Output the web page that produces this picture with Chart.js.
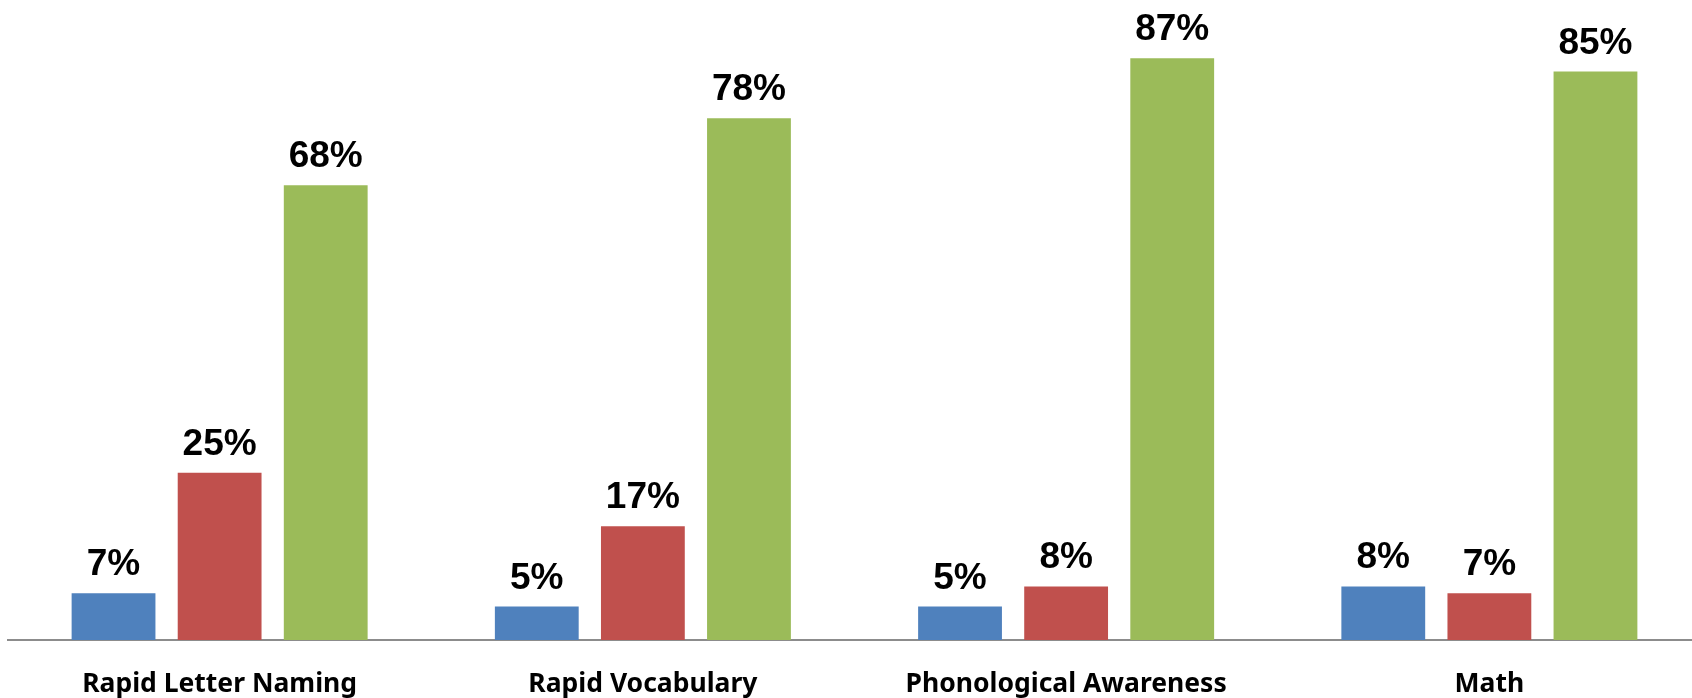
<!DOCTYPE html>
<html>
<head>
<meta charset="utf-8">
<script src="https://cdn.jsdelivr.net/npm/chart.js@4"></script>
<style>
  html, body { margin: 0; padding: 0; background: #fff; overflow: hidden; }
  #chart { display: block; }
</style>
</head>
<body>
<canvas id="chart" width="1701" height="698"></canvas>
<script>
const categories = ['Rapid Letter Naming', 'Rapid Vocabulary', 'Phonological Awareness', 'Math'];
const seriesA = [7, 5, 5, 8];
const seriesB = [25, 17, 8, 7];
const seriesC = [68, 78, 87, 85];
const colors = ['#4F81BD', '#C0504D', '#9BBB59'];

// draw the percent labels above each bar
const valueLabels = {
  id: 'valueLabels',
  afterDatasetsDraw(chart) {
    const ctx = chart.ctx;
    ctx.save();
    ctx.font = 'bold 37px "Liberation Sans", Arial, sans-serif';
    ctx.fillStyle = '#000';
    ctx.textAlign = 'center';
    ctx.textBaseline = 'alphabetic';
    chart.data.datasets.forEach((ds, i) => {
      chart.getDatasetMeta(i).data.forEach((bar, j) => {
        ctx.fillText(ds.data[j] + '%', bar.x, bar.y - 18);
      });
    });
    ctx.restore();
  }
};

new Chart(document.getElementById('chart'), {
  type: 'bar',
  data: {
    labels: categories,
    datasets: [
      { label: 'A', data: seriesA, backgroundColor: colors[0] },
      { label: 'B', data: seriesB, backgroundColor: colors[1] },
      { label: 'C', data: seriesC, backgroundColor: colors[2] }
    ]
  },
  options: {
    responsive: false,
    animation: false,
    layout: { padding: { left: 8, right: 0, top: 0, bottom: 0 } },
    plugins: { legend: { display: false }, tooltip: { enabled: false } },
    datasets: { bar: { categoryPercentage: 0.752, barPercentage: 0.79 } },
    scales: {
      y: { display: false, min: 0, max: 95.7 },
      x: {
        grid: { display: false, drawTicks: false },
        border: { display: true, color: '#8c8c8c', width: 2 },
        ticks: {
          color: '#000',
          padding: 29,
          font: { family: '"Noto Sans", "Open Sans", sans-serif', size: 26.5, weight: 'bold' }
        },
        afterFit(scale) { scale.height = 58; }
      }
    }
  },
  plugins: [valueLabels]
});
</script>
</body>
</html>
